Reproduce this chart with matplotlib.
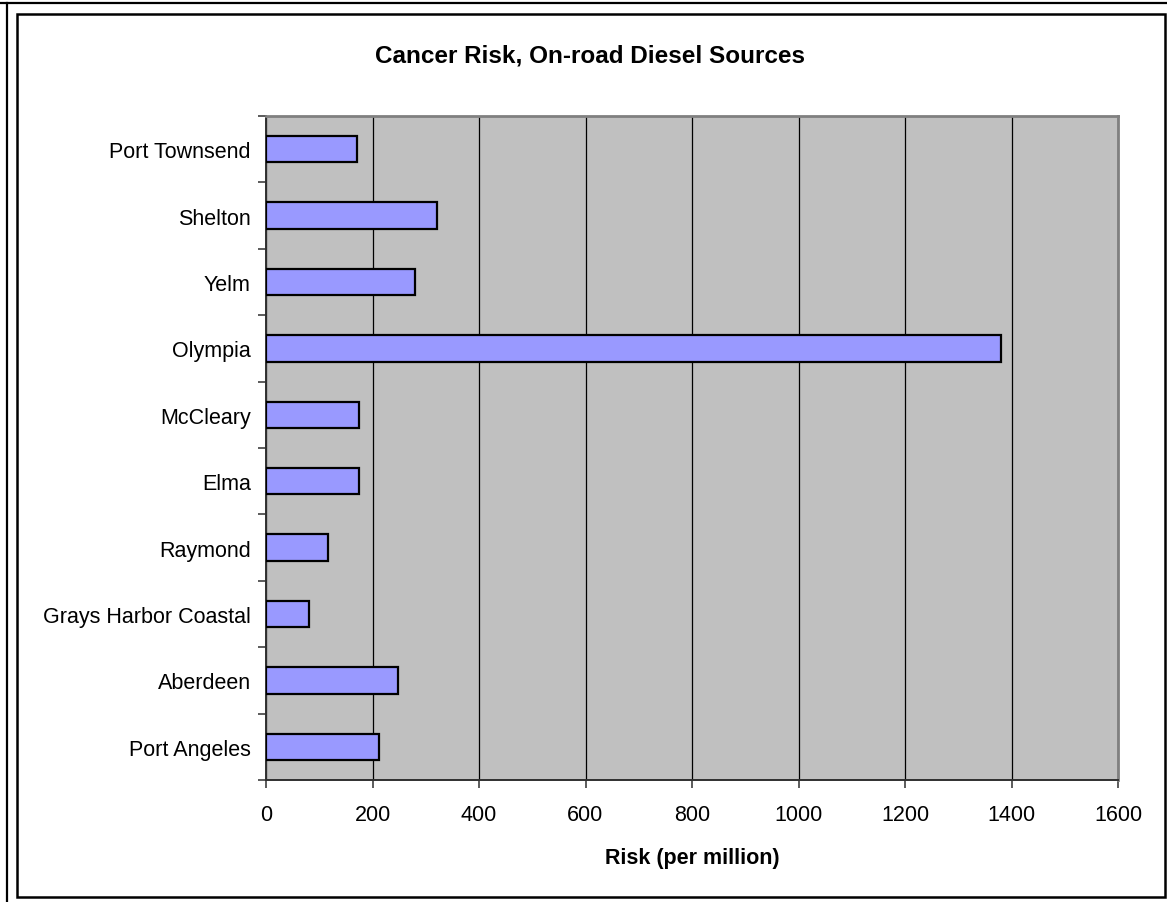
import matplotlib
matplotlib.use("Agg")
import matplotlib.pyplot as plt
from matplotlib.patches import Rectangle
from matplotlib.lines import Line2D
from matplotlib.ticker import FixedLocator

plt.rcParams['font.family'] = ['Liberation Sans', 'DejaVu Sans']

# Data (bottom to top)
sites = ["Port Angeles", "Aberdeen", "Grays Harbor Coastal", "Raymond", "Elma",
         "McCleary", "Olympia", "Yelm", "Shelton", "Port Townsend"]
risk = [213, 247, 81, 116, 175, 175, 1380, 280, 321, 171]
x_ticks = [0, 200, 400, 600, 800, 1000, 1200, 1400, 1600]

W, H = 1167, 903
fig = plt.figure(figsize=(W / 100, H / 100), dpi=100)
fig.patch.set_facecolor("white")

def fx(px):
    return px / W

def fy(py):
    return 1 - py / H

ax = fig.add_axes([fx(266), fy(781), fx(1118) - fx(266), fy(117) - fy(781)])
ax.set_facecolor("#c0c0c0")

pos = list(range(len(sites)))
ax.barh(pos, risk, height=0.4, color="#9999ff", edgecolor="black",
        linewidth=1.6, zorder=3)

ax.set_xlim(0, 1600)
ax.set_ylim(-0.5, len(sites) - 0.5)
ax.set_xticks(x_ticks)
ax.set_xticklabels([str(v) for v in x_ticks])
ax.xaxis.grid(True, color="black", linewidth=0.9, zorder=1)
ax.set_axisbelow(True)

ax.set_yticks(pos)
ax.set_yticklabels(sites)
ax.yaxis.set_minor_locator(FixedLocator([p - 0.5 for p in range(len(sites) + 1)]))
ax.tick_params(axis="y", which="major", length=0, pad=11, labelsize=15.5)
ax.tick_params(axis="y", which="minor", length=6, width=1.2, direction="out", color="#404040")
ax.tick_params(axis="x", which="major", length=6, width=1.2, direction="out",
               pad=11, labelsize=15.5, color="#404040")

for side in ("left", "bottom"):
    ax.spines[side].set_color("#303030")
    ax.spines[side].set_linewidth(1.4)
for side in ("top", "right"):
    ax.spines[side].set_color("#808080")
    ax.spines[side].set_linewidth(2.0)

ax.set_xlabel("Risk (per million)", fontsize=15.5, fontweight="bold", labelpad=16)
fig.text(fx(590), fy(56), "Cancer Risk, On-road Diesel Sources", ha="center",
         va="center", fontsize=17.5, fontweight="bold")

# Chart frame and surrounding cell borders
fig.patches.append(Rectangle((fx(17), fy(898)), fx(1165) - fx(17), fy(15) - fy(898),
                             transform=fig.transFigure, fill=False,
                             edgecolor="black", linewidth=1.8))
fig.lines.append(Line2D([0, 1], [fy(4), fy(4)], transform=fig.transFigure,
                        color="black", linewidth=1.6))
fig.lines.append(Line2D([fx(7), fx(7)], [fy(4), 0], transform=fig.transFigure,
                        color="black", linewidth=1.6))

fig.savefig("out.png", dpi=100)
